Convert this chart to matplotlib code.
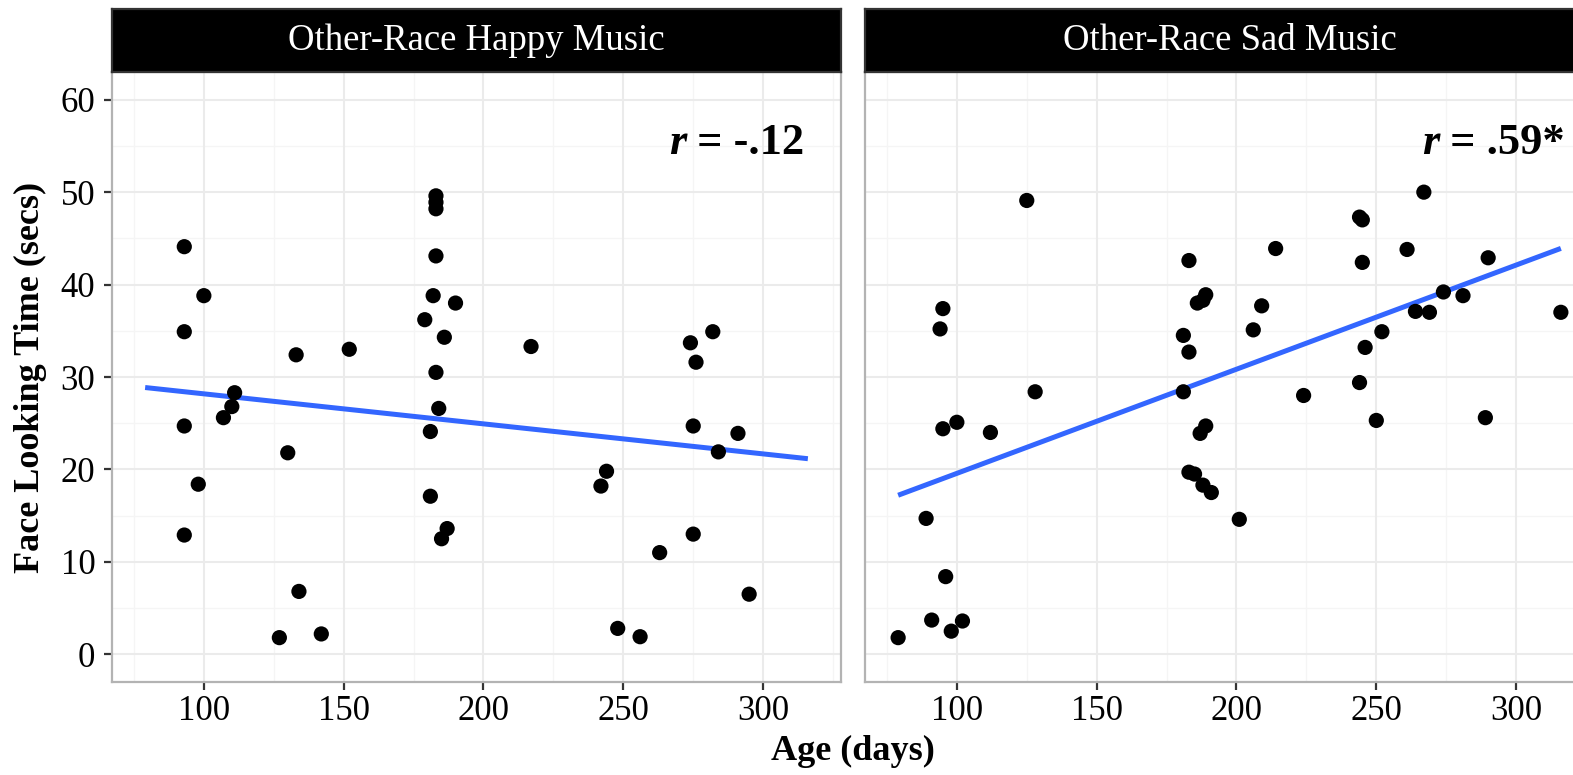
import numpy as np
import matplotlib
matplotlib.use("Agg")
import matplotlib.pyplot as plt
from matplotlib.patches import Rectangle

plt.rcParams['font.family'] = ['Liberation Serif', 'DejaVu Serif']

# Other-race faces, happy music condition
happy_age = [93, 100, 93, 133, 152, 111, 110, 107, 93, 130, 98, 93, 134, 127, 142,
             183, 183, 183, 183, 182, 190, 179, 186, 183, 184, 181, 181, 187, 185,
             217, 282, 274, 276, 275, 291, 284, 244, 242, 275, 263, 295, 248, 256]
happy_look = [44.1, 38.8, 34.9, 32.4, 33.0, 28.3, 26.8, 25.6, 24.7, 21.8, 18.4, 12.9, 6.8, 1.8, 2.2,
              49.6, 48.9, 48.2, 43.1, 38.8, 38.0, 36.2, 34.3, 30.5, 26.6, 24.1, 17.1, 13.6, 12.5,
              33.3, 34.9, 33.7, 31.6, 24.7, 23.9, 21.9, 19.8, 18.2, 13.0, 11.0, 6.5, 2.8, 1.9]

# Other-race faces, sad music condition
sad_age = [125, 183, 186, 188, 189, 95, 94, 181, 183, 128, 181, 95, 100, 112, 189,
           187, 183, 185, 188, 191, 89, 96, 91, 102, 98, 79, 267, 244, 245, 214,
           261, 245, 290, 274, 281, 209, 264, 269, 316, 206, 252, 246, 244, 224, 250,
           289, 201]
sad_look = [49.1, 42.6, 38.0, 38.3, 38.9, 37.4, 35.2, 34.5, 32.7, 28.4, 28.4, 24.4, 25.1, 24.0, 24.7,
            23.9, 19.7, 19.5, 18.3, 17.5, 14.7, 8.4, 3.7, 3.6, 2.5, 1.8, 50.0, 47.3, 47.0, 43.9,
            43.8, 42.4, 42.9, 39.2, 38.8, 37.7, 37.1, 37.0, 37.0, 35.1, 34.9, 33.2, 29.4, 28.0, 25.3,
            25.6, 14.6]

panel_titles = ["Other-Race Happy Music", "Other-Race Sad Music"]
r_labels = [" = -.12", " = .59*"]
x_ticks = [100, 150, 200, 250, 300]
y_ticks = [0, 10, 20, 30, 40, 50, 60]

W, H = 1573, 775
fig = plt.figure(figsize=(W / 100, H / 100), dpi=100)

# shared x scale with 5% expansion, y limited to 0-60
all_age = np.array(happy_age + sad_age, dtype=float)
xmin, xmax = all_age.min(), all_age.max()
pad = 0.05 * (xmax - xmin)
xlim = (xmin - pad, xmax + pad)
ylim = (0 - 3, 60 + 3)

panel_px_w = 729
panel_lefts = [112, 865]
panel_top, panel_bot = 72, 682
strip_top = 9

border_col = "#b3b3b3"

datasets = [(happy_age, happy_look), (sad_age, sad_look)]

for i, (ages, looks) in enumerate(datasets):
    left = panel_lefts[i]
    ax = fig.add_axes([left / W, (H - panel_bot) / H, panel_px_w / W, (panel_bot - panel_top) / H])
    ax.set_xlim(xlim)
    ax.set_ylim(ylim)

    # grid
    for xm in np.arange(75, 330, 50):
        ax.axvline(xm, color="#f5f5f5", lw=1.0, zorder=0)
    for ym in np.arange(5, 60, 10):
        ax.axhline(ym, color="#f5f5f5", lw=1.0, zorder=0)
    for xm in x_ticks:
        ax.axvline(xm, color="#ebebeb", lw=1.5, zorder=0)
    for ym in y_ticks:
        ax.axhline(ym, color="#ebebeb", lw=1.5, zorder=0)

    ax.scatter(ages, looks, s=120, color="black", edgecolors="none", zorder=3)

    # least-squares line across the full age range
    a = np.array(ages, dtype=float)
    b = np.array(looks, dtype=float)
    slope, intercept = np.polyfit(a, b, 1)
    xs = np.array([xmin, xmax])
    ax.plot(xs, intercept + slope * xs, color="#3366FF", lw=3.6, zorder=2,
            solid_capstyle="butt")

    for sp in ax.spines.values():
        sp.set_color(border_col)
        sp.set_linewidth(1.6)
        sp.set_zorder(5)

    ax.set_xticks(x_ticks)
    ax.set_xticklabels([str(t) for t in x_ticks], fontsize=25, color="black")
    ax.tick_params(axis="x", length=6, width=1.6, color="#333333", pad=3)
    ax.set_yticks(y_ticks)
    if i == 0:
        ax.set_yticklabels([str(t) for t in y_ticks], fontsize=25, color="black")
        ax.tick_params(axis="y", length=6, width=1.6, color="#333333", pad=6)
    else:
        ax.tick_params(axis="y", length=0, labelleft=False)

    # correlation annotation
    rt = ax.text(272.5, 55.3, "r", fontsize=32, fontweight="bold", fontstyle="italic",
                 ha="right", va="center", zorder=6)
    ax.annotate(r_labels[i], xy=(1, 0), xycoords=rt, ha="left", va="bottom",
                fontsize=32, fontweight="bold", zorder=6)

    # facet strip
    sax = fig.add_axes([left / W, (H - panel_top) / H, panel_px_w / W, (panel_top - strip_top) / H])
    sax.set_xlim(0, 1)
    sax.set_ylim(0, 1)
    sax.set_facecolor("black")
    sax.set_xticks([])
    sax.set_yticks([])
    for sp in sax.spines.values():
        sp.set_color("#333333")
        sp.set_linewidth(1.6)
    sax.text(0.5, 0.5, panel_titles[i], color="white", fontsize=26.5,
             ha="center", va="center")

fig.text(30 / W, (H - 377) / H, "Face Looking Time (secs)", rotation=90,
         fontsize=26, fontweight="bold", ha="center", va="center")
fig.text(853 / W, (H - 751) / H, "Age (days)", fontsize=26, fontweight="bold",
         ha="center", va="center")

fig.savefig("out.png", dpi=100)
